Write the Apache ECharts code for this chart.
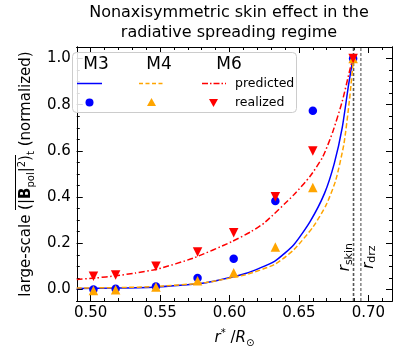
<!DOCTYPE html>
<html>
<head>
<meta charset="utf-8">
<script src="https://cdn.jsdelivr.net/npm/echarts@6/dist/echarts.min.js"></script>
<style>
  html, body { margin: 0; padding: 0; background: #fff; }
  #main { width: 400px; height: 353px; }
</style>
</head>
<body>
<div id="main"></div>
<script>
// axis ranges and ticks
const xMin = 0.49, xMax = 0.717, yMin = -0.05, yMax = 1.05;
const xTicks = [0.50, 0.55, 0.60, 0.65, 0.70];
const yTicks = [0.0, 0.2, 0.4, 0.6, 0.8, 1.0];

// realized points (simulations)
const rRealized = [0.502, 0.518, 0.547, 0.577, 0.603, 0.633, 0.660, 0.689];
const m3Realized = [0.000, 0.003, 0.013, 0.050, 0.133, 0.383, 0.774, 1.0];
const m4Realized = [-0.004, -0.001, 0.011, 0.038, 0.072, 0.184, 0.442, 1.0];
const m6Realized = [0.057, 0.063, 0.100, 0.162, 0.246, 0.401, 0.600, 1.0];

// predicted curves
const m3PredR = [0.490, 0.520, 0.548, 0.583, 0.6115, 0.6324, 0.6463, 0.658, 0.6684, 0.6754, 0.6812, 0.6858, 0.6889];
const m3Pred = [0.004, 0.006, 0.011, 0.029, 0.069, 0.122, 0.194, 0.294, 0.416, 0.545, 0.702, 0.889, 1.0];
const m4PredR = [0.490, 0.520, 0.548, 0.583, 0.6115, 0.6324, 0.6463, 0.6603, 0.6696, 0.6765, 0.6824, 0.6863, 0.6893];
const m4Pred = [0.006, 0.008, 0.013, 0.030, 0.064, 0.108, 0.172, 0.272, 0.366, 0.473, 0.631, 0.817, 1.0];
const m6PredR = [0.490, 0.504, 0.518, 0.532, 0.548, 0.574, 0.602, 0.6157, 0.6254, 0.6463, 0.658, 0.6672, 0.6742, 0.6812, 0.687, 0.6888];
const m6Pred = [0.043, 0.050, 0.059, 0.071, 0.088, 0.136, 0.208, 0.251, 0.290, 0.410, 0.490, 0.575, 0.680, 0.815, 0.960, 1.0];

// skin radius and drz boundary
const rSkin = 0.6893;
const rDrz = 0.6946;

const FONT = 'DejaVu Sans';
const BLUE = '#0000ff', ORANGE = '#ffa500', RED = '#ff0000';

const zip = (xs, ys) => xs.map((x, i) => [x, ys[i]]);

// minor ticks
const xMinor = [], yMinor = [];
for (let i = 49; i <= 71; i++) xMinor.push(i / 100);
for (let i = -1; i <= 21; i++) yMinor.push(i / 20);

// width of the overlined part of the y label
const ctx = document.createElement('canvas').getContext('2d');
function textW(str, size, weight) {
  ctx.font = 'normal ' + (weight || 'normal') + ' ' + size + 'px ' + FONT;
  return ctx.measureText(str).width;
}
const barW = textW('(|', 15) + textW('B', 15, 'bold') + textW('pol', 10) + textW('|', 15) + textW('2', 10) + textW(')', 15);

function xAx(pos, ticks, len, labels) {
  return {
    type: 'value', position: pos, min: xMin, max: xMax,
    axisLine: { show: true, onZero: false, lineStyle: { color: '#000', width: 1 } },
    axisTick: { show: true, inside: true, length: len, customValues: ticks, lineStyle: { color: '#000', width: 1 } },
    axisLabel: { show: labels, customValues: ticks, formatter: v => v.toFixed(2), fontSize: 15, fontFamily: FONT, color: '#000', margin: 5 },
    splitLine: { show: false }
  };
}
function yAx(pos, ticks, len, labels) {
  return {
    type: 'value', position: pos, min: yMin, max: yMax,
    axisLine: { show: true, onZero: false, lineStyle: { color: '#000', width: 1 } },
    axisTick: { show: true, inside: true, length: len, customValues: ticks, lineStyle: { color: '#000', width: 1 } },
    axisLabel: { show: labels, customValues: ticks, formatter: v => v.toFixed(1), fontSize: 15, fontFamily: FONT, color: '#000', margin: 6 },
    splitLine: { show: false }
  };
}

const xBottom = xAx('bottom', xTicks, 6, true);
xBottom.name = '{i|r}{p|*}{n| /}{i|R}{s|\u2299}';
xBottom.nameLocation = 'middle';
xBottom.nameGap = 27;
xBottom.nameTextStyle = {
  rich: {
    i: { fontSize: 15, fontFamily: FONT, fontStyle: 'italic', color: '#000', lineHeight: 20 },
    n: { fontSize: 15, fontFamily: FONT, color: '#000', lineHeight: 20 },
    p: { fontSize: 10, fontFamily: FONT, color: '#000', lineHeight: 11, verticalAlign: 'top' },
    s: { fontSize: 10, fontFamily: FONT, color: '#000', lineHeight: 11, verticalAlign: 'bottom' }
  }
};

const yLeft = yAx('left', yTicks, 6, true);
yLeft.name = '{h|large-scale }{bar| }{hs|t}{h| (normalized)}\n' +
  '{a|large-scale (|}{b|B}{s|pol}{a||}{p|2}{a|)}{s|t}{a| (normalized)}';
yLeft.nameLocation = 'middle';
yLeft.nameRotate = 90;
yLeft.nameGap = 36;
yLeft.nameTextStyle = {
  rich: {
    a: { fontSize: 15, fontFamily: FONT, color: '#000', lineHeight: 19 },
    b: { fontSize: 15, fontFamily: FONT, fontWeight: 'bold', color: '#000', lineHeight: 19 },
    s: { fontSize: 10, fontFamily: FONT, color: '#000', lineHeight: 11, verticalAlign: 'bottom' },
    p: { fontSize: 10, fontFamily: FONT, color: '#000', lineHeight: 11, verticalAlign: 'top' },
    h: { fontSize: 15, fontFamily: FONT, color: 'transparent', lineHeight: 3 },
    hs: { fontSize: 10, fontFamily: FONT, color: 'transparent', lineHeight: 3 },
    bar: { fontSize: 10, fontFamily: FONT, color: 'transparent', width: barW, height: 1, lineHeight: 3, backgroundColor: '#000' }
  }
};

function vLine(name, r, width) {
  return {
    name: name, type: 'line', data: [[r, yMin], [r, yMax]], showSymbol: false, silent: true,
    lineStyle: { color: '#555', width: width, type: [3, 2] }, z: 2
  };
}

var myChart = echarts.init(document.getElementById('main'));
myChart.setOption({
  animation: false,
  backgroundColor: '#fff',
  grid: { left: 66, right: 8, top: 47, bottom: 51 },
  xAxis: [xBottom, xAx('bottom', xMinor, 3, false), xAx('top', xTicks, 6, false), xAx('top', xMinor, 3, false)],
  yAxis: [yLeft, yAx('left', yMinor, 3, false), yAx('right', yTicks, 6, false), yAx('right', yMinor, 3, false)],
  series: [
    vLine('r_skin', rSkin, 1.6),
    vLine('r_drz', rDrz, 1.1),
    {
      name: 'M3 predicted', type: 'line', data: zip(m3PredR, m3Pred),
      showSymbol: false, smooth: 0.2,
      lineStyle: { color: BLUE, width: 1.5 }, z: 3
    },
    {
      name: 'M4 predicted', type: 'line', data: zip(m4PredR, m4Pred),
      showSymbol: false, smooth: 0.2,
      lineStyle: { color: ORANGE, width: 1.5, type: [5, 2.5] }, z: 3
    },
    {
      name: 'M6 predicted', type: 'line', data: zip(m6PredR, m6Pred),
      showSymbol: false, smooth: 0.2,
      lineStyle: { color: RED, width: 1.5, type: [6, 2.5, 1.5, 2.5] }, z: 3
    },
    {
      name: 'M3 realized', type: 'scatter', data: zip(rRealized, m3Realized),
      symbol: 'circle', symbolSize: 8.5, itemStyle: { color: BLUE, opacity: 1 }, z: 4
    },
    {
      name: 'M4 realized', type: 'scatter', data: zip(rRealized, m4Realized),
      symbol: 'triangle', symbolSize: 9.5, itemStyle: { color: ORANGE, opacity: 1 }, z: 4
    },
    {
      name: 'M6 realized', type: 'scatter', data: zip(rRealized, m6Realized),
      symbol: 'triangle', symbolRotate: 180, symbolSize: 9.5, itemStyle: { color: RED, opacity: 1 }, z: 4
    }
  ]
});

// labels placed via the chart's own scales
const pSkin = myChart.convertToPixel({ xAxisIndex: 0, yAxisIndex: 0 }, [rSkin, 0.14]);
const pDrz = myChart.convertToPixel({ xAxisIndex: 0, yAxisIndex: 0 }, [rDrz, 0.14]);
const rLabelRich = {
  i: { fontSize: 15, fontFamily: FONT, fontStyle: 'italic', fill: '#000', lineHeight: 18 },
  s: { fontSize: 11, fontFamily: FONT, fill: '#000', lineHeight: 12, verticalAlign: 'bottom' }
};
function tx(text, x, y, size, align) {
  return {
    type: 'text', x: x, y: y, z: 100,
    style: { text: text, fontSize: size, fontFamily: FONT, fill: '#000', align: align || 'center', verticalAlign: 'middle' }
  };
}

myChart.setOption({
  graphic: [
    // title
    {
      type: 'text', x: 229, y: 3,
      style: {
        text: 'Nonaxisymmetric skin effect in the\nradiative spreading regime',
        fontSize: 16, fontFamily: FONT, fill: '#000', align: 'center', verticalAlign: 'top', lineHeight: 20
      }
    },
    // r_skin / r_drz labels
    { type: 'text', x: pSkin[0] - 8, y: pSkin[1], rotation: Math.PI / 2, z: 100,
      style: { text: '{i|r}{s|skin}', rich: rLabelRich, align: 'center', verticalAlign: 'middle' } },
    { type: 'text', x: pDrz[0] + 8, y: pDrz[1], rotation: Math.PI / 2, z: 100,
      style: { text: '{i|r}{s|drz}', rich: rLabelRich, align: 'center', verticalAlign: 'middle' } },
    // legend
    { type: 'rect', z: 99, shape: { x: 72.5, y: 52.5, width: 224, height: 60, r: 4 },
      style: { fill: 'rgba(255,255,255,0.85)', stroke: '#cccccc', lineWidth: 1 } },
    tx('M3', 96, 65, 17), tx('M4', 159, 65, 17), tx('M6', 229, 65, 17),
    { type: 'line', z: 100, shape: { x1: 77, y1: 83.5, x2: 102, y2: 83.5 }, style: { stroke: BLUE, lineWidth: 1.5 } },
    { type: 'line', z: 100, shape: { x1: 139, y1: 83.5, x2: 164, y2: 83.5 }, style: { stroke: ORANGE, lineWidth: 1.5, lineDash: [4, 2.5] } },
    { type: 'line', z: 100, shape: { x1: 202, y1: 83.5, x2: 226, y2: 83.5 }, style: { stroke: RED, lineWidth: 1.5, lineDash: [6, 2, 1.5, 2] } },
    { type: 'circle', z: 100, shape: { cx: 89.5, cy: 102.5, r: 4 }, style: { fill: BLUE } },
    { type: 'polygon', z: 100, shape: { points: [[151.5, 98], [156, 106], [147, 106]] }, style: { fill: ORANGE } },
    { type: 'polygon', z: 100, shape: { points: [[209, 99], [218, 99], [213.5, 107]] }, style: { fill: RED } },
    tx('predicted', 235, 83.5, 12.5, 'left'),
    tx('realized', 235, 102.5, 12.5, 'left')
  ]
});
</script>
</body>
</html>
